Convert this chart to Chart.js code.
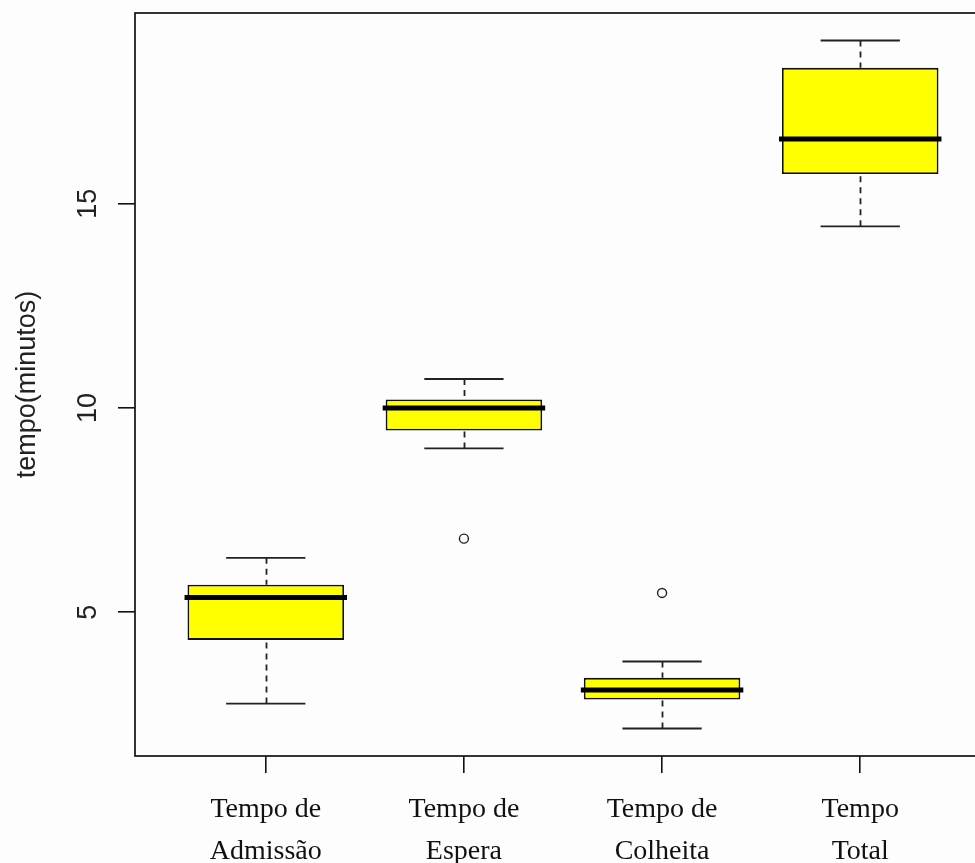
<!DOCTYPE html>
<html>
<head>
<meta charset="utf-8">
<script src="https://cdn.jsdelivr.net/npm/chart.js@4.4.1/dist/chart.umd.min.js"></script>
<style>
  html, body { margin: 0; padding: 0; background: #fdfdfd; overflow: hidden; }
  #wrap { width: 1000px; height: 863px; }
</style>
</head>
<body>
<div id="wrap"><canvas id="c" width="1000" height="863"></canvas></div>
<script>
// ---- data ----
const categories = [["Tempo de", "Admissão"], ["Tempo de", "Espera"], ["Tempo de", "Colheita"], ["Tempo", "Total"]];
const positions = [1, 2, 3, 4];
const lowerWhisker = [2.76, 9.01, 2.15, 14.45];
const q1 = [4.32, 9.45, 2.86, 15.73];
const median = [5.36, 10.00, 3.09, 16.59];
const q3 = [5.67, 10.21, 3.39, 18.33];
const upperWhisker = [6.33, 10.71, 3.79, 19.00];
const outlierX = [2, 3];
const outlierY = [6.80, 5.47];
const yTickValues = [5, 10, 15];
const yTitle = "tempo(minutos)";

const boxData = positions.map((x, i) => ({ x: x, y: [q1[i], q3[i]] }));
const outlierData = outlierX.map((x, i) => ({ x: x, y: outlierY[i] }));

const boxPlugin = {
  id: 'boxParts',
  beforeDraw(chart) {
    const ctx = chart.ctx;
    ctx.save();
    ctx.fillStyle = '#fdfdfd';
    ctx.fillRect(0, 0, chart.width, chart.height);
    ctx.restore();
  },
  beforeDatasetsDraw(chart) {
    const xs = chart.scales.x, ys = chart.scales.y, ctx = chart.ctx;
    ctx.save();
    ctx.strokeStyle = '#222';
    positions.forEach((p, i) => {
      const cx = Math.round(xs.getPixelForValue(p)) + 0.5;
      // dashed whiskers from whisker end to box edge
      ctx.lineWidth = 1.8;
      ctx.setLineDash([6, 5]);
      ctx.beginPath();
      ctx.moveTo(cx, ys.getPixelForValue(upperWhisker[i]));
      ctx.lineTo(cx, ys.getPixelForValue(q3[i]));
      ctx.moveTo(cx, ys.getPixelForValue(lowerWhisker[i]));
      ctx.lineTo(cx, ys.getPixelForValue(q1[i]));
      ctx.stroke();
      // staples
      ctx.setLineDash([]);
      ctx.lineWidth = 1.8;
      ctx.beginPath();
      const l = xs.getPixelForValue(p - 0.2), r = xs.getPixelForValue(p + 0.2);
      [upperWhisker[i], lowerWhisker[i]].forEach(v => {
        const y = ys.getPixelForValue(v);
        ctx.moveTo(l, y); ctx.lineTo(r, y);
      });
      ctx.stroke();
    });
    ctx.restore();
  },
  afterDatasetsDraw(chart) {
    const xs = chart.scales.x, ys = chart.scales.y, ctx = chart.ctx;
    const a = chart.chartArea;
    ctx.save();
    // medians
    ctx.strokeStyle = '#000';
    ctx.lineWidth = 5;
    positions.forEach((p, i) => {
      const y = ys.getPixelForValue(median[i]);
      ctx.beginPath();
      ctx.moveTo(xs.getPixelForValue(p - 0.41), y);
      ctx.lineTo(xs.getPixelForValue(p + 0.41), y);
      ctx.stroke();
    });
    // plot box
    ctx.strokeStyle = '#111';
    ctx.lineWidth = 1.7;
    ctx.strokeRect(a.left, a.top, a.right - a.left, a.bottom - a.top);
    ctx.restore();
  }
};

const noPad = s => { s.paddingTop = 0; s.paddingBottom = 0; s.paddingLeft = 0; s.paddingRight = 0; };

new Chart(document.getElementById('c'), {
  data: {
    datasets: [
      {
        type: 'bar',
        data: boxData,
        backgroundColor: '#ffff00',
        borderColor: '#111',
        borderWidth: 1.8,
        borderSkipped: false,
        categoryPercentage: 1.0,
        barPercentage: 0.79,
        order: 2
      },
      {
        type: 'scatter',
        data: outlierData,
        pointStyle: 'circle',
        pointRadius: 4.5,
        pointBorderWidth: 1.4,
        pointBackgroundColor: '#fdfdfd',
        pointBorderColor: '#222',
        order: 1
      }
    ]
  },
  options: {
    responsive: false,
    animation: false,
    events: [],
    layout: { padding: { top: 13, right: 9, left: 0, bottom: 0 } },
    plugins: { legend: { display: false }, tooltip: { enabled: false } },
    scales: {
      x: {
        type: 'linear',
        min: 0.34,
        max: 4.66,
        offset: false,
        afterBuildTicks: s => { s.ticks = positions.map(v => ({ value: v })); },
        afterFit: s => { s.height = 107; noPad(s); },
        border: { display: false },
        grid: { offset: false, drawOnChartArea: false, drawTicks: true, tickLength: 17, color: '#111', lineWidth: 1.6 },
        ticks: {
          autoSkip: false,
          maxRotation: 0,
          minRotation: 0,
          padding: 16,
          color: '#111',
          font: { family: '"Liberation Serif", "Times New Roman", serif', size: 28, lineHeight: 1.5 },
          callback: v => { const i = positions.indexOf(v); return i >= 0 ? categories[i] : ''; }
        }
      },
      y: {
        type: 'linear',
        min: 1.476,
        max: 19.674,
        afterBuildTicks: s => { s.ticks = yTickValues.map(v => ({ value: v })); },
        afterFit: s => { s.width = 135; noPad(s); },
        border: { display: false },
        grid: { drawOnChartArea: false, drawTicks: true, tickLength: 17, color: '#111', lineWidth: 1.6 },
        title: {
          display: true,
          text: yTitle,
          color: '#222',
          font: { family: '"Liberation Sans", Arial, sans-serif', size: 27, lineHeight: 1.2 },
          padding: { top: 11, bottom: 0 }
        },
        ticks: {
          minRotation: 90,
          maxRotation: 90,
          crossAlign: 'center',
          padding: 14,
          color: '#222',
          font: { family: '"Liberation Sans", Arial, sans-serif', size: 27 },
          callback: v => String(v)
        }
      }
    }
  },
  plugins: [boxPlugin]
});
</script>
</body>
</html>
